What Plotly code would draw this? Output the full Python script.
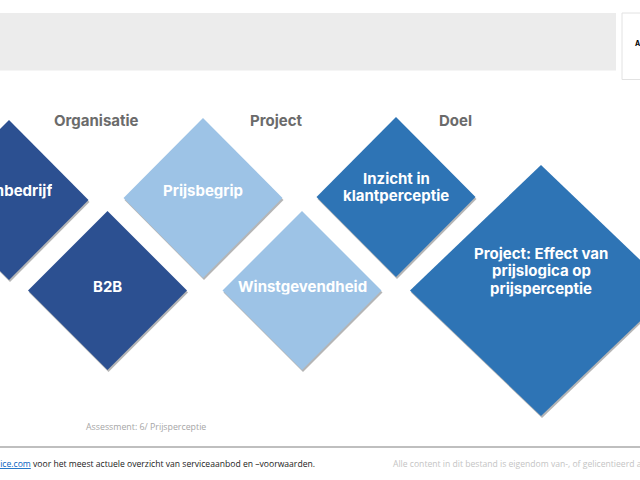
import plotly.graph_objects as go

# diamonds in page pixels
labels = ["Kleinbedrijf", "B2B", "Prijsbegrip", "Winstgevendheid",
          "Inzicht in<br>klantperceptie", "Project: Effect van<br>prijslogica op<br>prijsperceptie"]
center_x = [9, 107.5, 203, 302, 396, 541]
center_y = [200, 290.5, 198, 290.5, 197, 290.5]
half_w = [79.5, 79.5, 79.5, 79.5, 79.5, 131]
half_h = [80, 79.5, 80, 79.5, 80, 125.5]
colors = ["#2c5091", "#2c5091", "#9dc3e6", "#9dc3e6", "#2e74b5", "#2e74b5"]
label_y = [190.5, 286.5, 191, 286.5, 178.5, 253.5]

headers = ["Organisatie", "Project", "Doel"]
header_x = [96.5, 276, 455.5]

WIDTH = 640
HEIGHT = 480
FONT = "Inter"
LINE_GAP = 17.5


def add_diamond(fig, cx, cy, hw, hh, color):
    fig.add_trace(go.Scatter(
        x=[cx, cx + hw, cx, cx - hw, cx],
        y=[cy - hh, cy, cy + hh, cy, cy - hh],
        mode="lines", fill="toself", fillcolor=color,
        line=dict(width=0, color=color), hoverinfo="skip",
    ))


fig = go.Figure()

for i in range(len(labels)):
    # soft shadow first, then the shape itself
    add_diamond(fig, center_x[i] + 1, center_y[i] + 2, half_w[i], half_h[i], "rgba(120,120,120,0.55)")
    add_diamond(fig, center_x[i], center_y[i], half_w[i], half_h[i], colors[i])
    # one annotation per line, plotly's own line spacing is too wide here
    for n, line in enumerate(labels[i].split("<br>")):
        fig.add_annotation(x=center_x[i], y=label_y[i] + n * LINE_GAP, text=line, showarrow=False,
                           height=LINE_GAP - 2, borderpad=0,
                           font=dict(family=FONT, size=15, color="white", weight=700))

for name, x in zip(headers, header_x):
    fig.add_annotation(x=x, y=120.5, text=name, showarrow=False,
                       font=dict(family=FONT, size=15, color="#6b6b6b", weight=700))

# header band, logo box and footer rule
fig.add_shape(type="rect", x0=0, x1=616, y0=13, y1=70.5, fillcolor="#ececec", line_width=0, layer="below")
fig.add_shape(type="rect", x0=622, x1=660, y0=13, y1=79.5, fillcolor="white",
              line=dict(color="#e2e2e2", width=1), layer="below")
fig.add_shape(type="line", x0=0, x1=640, y0=447, y1=447, line=dict(color="#bfbfbf", width=2))

fig.add_annotation(x=637.5, y=43, text="A", showarrow=False,
                   font=dict(family=FONT, size=7, color="black", weight=700))
fig.add_annotation(x=146, y=426.5, text="Assessment: 6/ Prijsperceptie", showarrow=False,
                   font=dict(family="Open Sans", size=8.8, color="#a6a6a6"))
fig.add_annotation(x=317, y=463.5, xanchor="right", showarrow=False,
                   text="<span style='color:#0563c1'><u>lice.com</u></span> voor het meest actuele overzicht van serviceaanbod en –voorwaarden.",
                   font=dict(family="Open Sans", size=8.6, color="#222222"))
fig.add_annotation(x=391, y=463.5, xanchor="left", showarrow=False,
                   text="Alle content in dit bestand is eigendom van-, of gelicentieerd aan",
                   font=dict(family="Open Sans", size=8.6, color="#c4c4c4"))

fig.update_layout(
    width=WIDTH, height=HEIGHT, showlegend=False,
    margin=dict(l=0, r=0, t=0, b=0),
    paper_bgcolor="white", plot_bgcolor="white",
)
fig.update_xaxes(range=[0, WIDTH], visible=False)
fig.update_yaxes(range=[HEIGHT, 0], visible=False)

# drop the browser's default page margin so the figure fills the window
fig.write_html("out.html", config={"displayModeBar": False},
               post_script="document.body.style.margin='0';")
